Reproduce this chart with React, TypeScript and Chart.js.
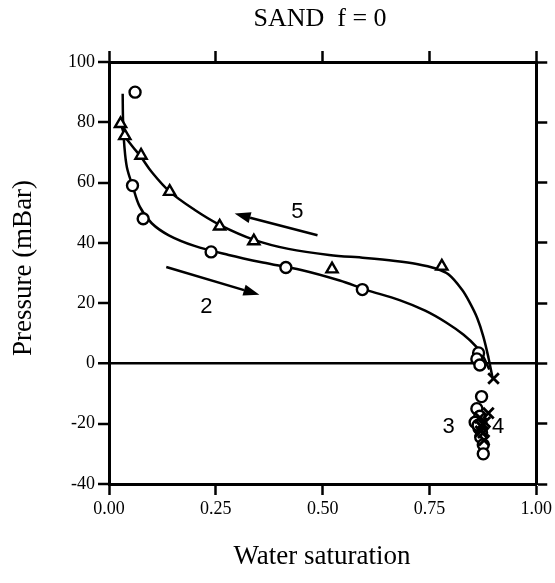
import React, { useEffect, useRef } from "react";
import { Chart, registerables } from "chart.js";

Chart.register(...registerables);

// Axis ticks
const xTickValues = [0, 0.25, 0.5, 0.75, 1.0];
const yMin = -40;
const yMax = 100;
const yStep = 20;

// Drainage (2) measured points – circles
const drainX = [0.061, 0.055, 0.08, 0.239, 0.414, 0.593, 0.865, 0.861, 0.868, 0.872, 0.861, 0.868, 0.857, 0.866, 0.872, 0.870, 0.864, 0.876, 0.876];
const drainY = [90, 59, 48, 37, 31.8, 24.5, 3.5, 1.5, -0.5, -11, -15, -17.5, -19.5, -21.5, -23, -24.5, -20.5, -27, -30];

// Imbibition (5) measured points – triangles
const imbX = [0.027, 0.037, 0.075, 0.142, 0.259, 0.339, 0.522, 0.779];
const imbY = [79.5, 75.5, 69, 57, 45.5, 40.6, 31.3, 32.2];

// Crosses (4)
const crossX = [0.9, 0.888, 0.88, 0.872, 0.876, 0.878, 0.868, 0.874, 0.87];
const crossY = [-5, -16.5, -19.5, -21, -23, -25.5, -18, -20, -22.5];

// Fitted drainage curve
const drainCurveX = [0.032, 0.033, 0.036, 0.042, 0.055, 0.072, 0.1, 0.14, 0.2, 0.28, 0.36, 0.45, 0.54, 0.6, 0.68, 0.74, 0.79, 0.83, 0.86, 0.875, 0.89];
const drainCurveY = [89.5, 80, 72, 65, 59, 52, 46.5, 42.5, 39, 36, 33.5, 31, 27.5, 24.5, 21, 17.5, 13.5, 9.5, 5.5, 2.5, -2];

// Fitted imbibition curve
const imbCurveX = [0.027, 0.037, 0.055, 0.075, 0.1, 0.142, 0.2, 0.259, 0.34, 0.42, 0.515, 0.6, 0.67, 0.72, 0.765, 0.795, 0.826, 0.845, 0.862, 0.876, 0.888, 0.898];
const imbCurveY = [80, 75.5, 72, 68.5, 63.5, 57, 51, 46, 41, 38, 36, 35, 34, 33, 31.5, 29.5, 24.5, 20, 15, 9, 2, -5];

// Annotations: arrows [x0,y0,x1,y1] in data coords (tip at x1,y1), labels
const arrow5 = [0.488, 42.5, 0.294, 49.7];
const arrow2 = [0.134, 32, 0.352, 22.8];
const labelText = ["5", "2", "3", "4"];
const labelX = [0.441, 0.228, 0.795, 0.911];
const labelY = [50.3, 18.7, -21.2, -21.2];

const titleText = "SAND  f = 0";
const xTitle = "Water saturation";
const yTitle = "Pressure (mBar)";

const toPts = (xs: number[], ys: number[]) => xs.map((x, i) => ({ x, y: ys[i] }));

export default function App() {
  const ref = useRef<HTMLCanvasElement>(null);
  useEffect(() => {
    if (!ref.current) return;
    const serif = "'Liberation Serif', 'DejaVu Serif', serif";
    const sans = "'Liberation Sans', Arial, sans-serif";

    const textPlugin = {
      id: "texts",
      afterDraw(chart: any) {
        const ctx = chart.ctx;
        const xs = chart.scales.x;
        const ys = chart.scales.y;
        ctx.save();
        ctx.fillStyle = "#000";
        ctx.strokeStyle = "#000";
        // title
        ctx.font = `26px ${serif}`;
        ctx.textAlign = "center";
        ctx.textBaseline = "middle";
        ctx.fillText(titleText, 320, 19);
        // x title
        ctx.font = `27px ${serif}`;
        ctx.fillText(xTitle, 322, 557);
        // y title
        ctx.save();
        ctx.translate(24, 268);
        ctx.rotate(-Math.PI / 2);
        ctx.fillText(yTitle, 0, 0);
        ctx.restore();
        // arrows
        const drawArrow = (a: number[]) => {
          const x0 = xs.getPixelForValue(a[0]);
          const y0 = ys.getPixelForValue(a[1]);
          const x1 = xs.getPixelForValue(a[2]);
          const y1 = ys.getPixelForValue(a[3]);
          const ang = Math.atan2(y1 - y0, x1 - x0);
          const hl = 16, hw = 5.5;
          const bx = x1 - hl * Math.cos(ang);
          const by = y1 - hl * Math.sin(ang);
          ctx.lineWidth = 2.5;
          ctx.beginPath();
          ctx.moveTo(x0, y0);
          ctx.lineTo(bx, by);
          ctx.stroke();
          ctx.beginPath();
          ctx.moveTo(x1, y1);
          ctx.lineTo(bx + hw * Math.sin(ang), by - hw * Math.cos(ang));
          ctx.lineTo(bx - hw * Math.sin(ang), by + hw * Math.cos(ang));
          ctx.closePath();
          ctx.fill();
        };
        drawArrow(arrow5);
        drawArrow(arrow2);
        ctx.font = `22px ${sans}`;
        labelText.forEach((t, i) => {
          ctx.fillText(t, xs.getPixelForValue(labelX[i]), ys.getPixelForValue(labelY[i]));
        });
        ctx.restore();
      },
    };

    const tickGrid = {
      drawOnChartArea: false,
      drawTicks: true,
      tickLength: 11,
      tickWidth: 2.5,
      tickColor: "#000",
    };
    const border = { display: true, color: "#000", width: 3 };

    const chart = new Chart(ref.current, {
      type: "scatter",
      data: {
        datasets: [
          {
            type: "line",
            label: "drainage curve",
            data: toPts(drainCurveX, drainCurveY),
            borderColor: "#000",
            borderWidth: 2.5,
            pointRadius: 0,
            tension: 0.35,
            fill: false,
            order: 3,
          },
          {
            type: "line",
            label: "imbibition curve",
            data: toPts(imbCurveX, imbCurveY),
            borderColor: "#000",
            borderWidth: 2.5,
            pointRadius: 0,
            tension: 0.35,
            fill: false,
            order: 3,
          },
          {
            label: "2/3",
            data: toPts(drainX, drainY),
            pointStyle: "circle",
            pointRadius: 5.5,
            borderColor: "#000",
            backgroundColor: "#fff",
            borderWidth: 2.4,
            order: 2,
          },
          {
            label: "5",
            data: toPts(imbX, imbY),
            pointStyle: "triangle",
            pointRadius: 6.5,
            borderColor: "#000",
            backgroundColor: "#fff",
            borderWidth: 2.4,
            order: 2,
          },
          {
            label: "4",
            data: toPts(crossX, crossY),
            pointStyle: "crossRot",
            pointRadius: 7.5,
            borderColor: "#000",
            borderWidth: 2.8,
            order: 1,
          },
        ],
      },
      options: {
        animation: false,
        responsive: true,
        maintainAspectRatio: false,
        layout: { padding: 0 },
        plugins: { legend: { display: false }, tooltip: { enabled: false } },
        scales: {
          x: {
            type: "linear",
            position: "bottom",
            min: 0,
            max: 1,
            afterBuildTicks: (s: any) => {
              s.ticks = xTickValues.map((v) => ({ value: v }));
            },
            ticks: {
              callback: (v: any) => Number(v).toFixed(2),
              color: "#000",
              font: { family: serif, size: 18 },
              padding: 3,
              maxRotation: 0,
            },
            grid: tickGrid,
            border,
            afterFit: (s: any) => {
              s.height = 99;
            },
          },
          x2: {
            type: "linear",
            axis: "x",
            position: "top",
            min: 0,
            max: 1,
            afterBuildTicks: (s: any) => {
              s.ticks = xTickValues.map((v) => ({ value: v }));
            },
            ticks: { display: false },
            grid: tickGrid,
            border,
            afterFit: (s: any) => {
              s.height = 62;
            },
          },
          y: {
            type: "linear",
            position: "left",
            min: yMin,
            max: yMax,
            ticks: {
              stepSize: yStep,
              color: "#000",
              font: { family: serif, size: 18 },
              padding: 3,
            },
            grid: {
              drawOnChartArea: true,
              drawTicks: true,
              tickLength: 11,
              tickWidth: 2.5,
              tickColor: "#000",
              color: (c: any) => (c.tick && c.tick.value === 0 ? "#000" : "rgba(0,0,0,0)"),
              lineWidth: (c: any) => (c.tick && c.tick.value === 0 ? 2.5 : 0),
            },
            border,
            afterFit: (s: any) => {
              s.width = 109;
            },
          },
          y2: {
            type: "linear",
            axis: "y",
            position: "right",
            min: yMin,
            max: yMax,
            ticks: { display: false, stepSize: yStep },
            grid: tickGrid,
            border,
            afterFit: (s: any) => {
              s.width = 17;
            },
          },
        },
      } as any,
      plugins: [textPlugin],
    });
    return () => chart.destroy();
  }, []);

  return (
    <div style={{ position: "absolute", left: 0, top: 0, width: 555, height: 583, background: "#fff" }}>
      <canvas ref={ref} />
    </div>
  );
}
